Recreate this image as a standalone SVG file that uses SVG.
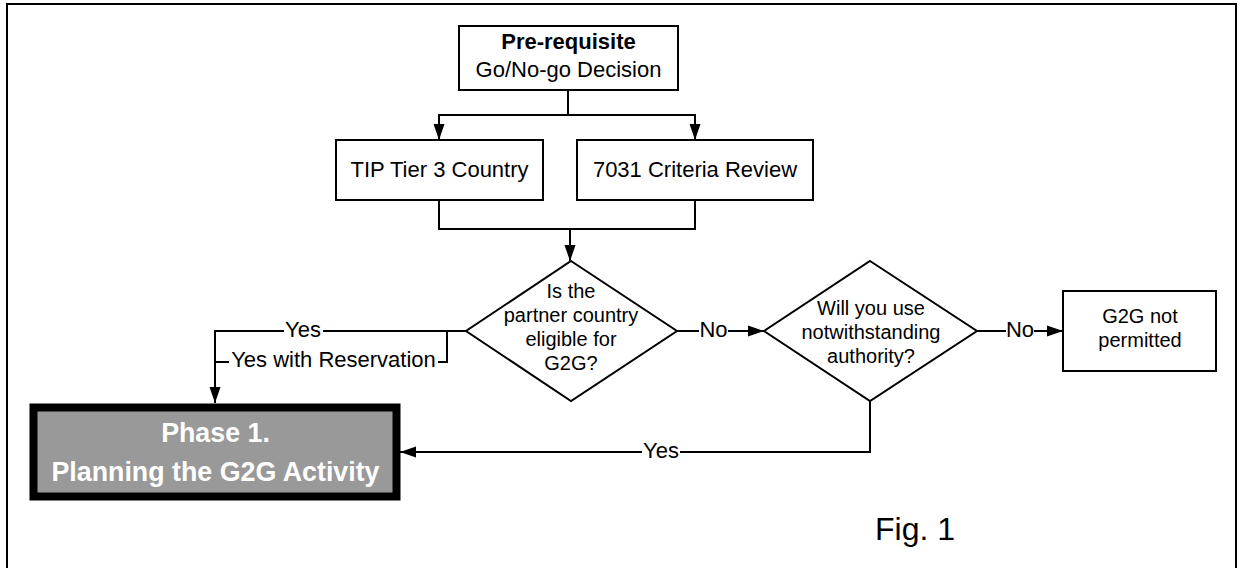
<svg xmlns="http://www.w3.org/2000/svg" width="1243" height="568" viewBox="0 0 1243 568">
<style>
  text { font-family: "Liberation Sans", Arial, sans-serif; fill: #000; }
  .t22 { font-size: 22px; text-anchor: middle; }
  .t20 { font-size: 20px; text-anchor: middle; }
  .lbl { font-size: 22px; text-anchor: middle; }
  .box { fill: #fff; stroke: #000; stroke-width: 2; }
  .con { fill: none; stroke: #000; stroke-width: 2; }
  .phase { font-size: 26.8px; font-weight: bold; fill: #fff; text-anchor: middle; }
</style>
<defs>
  <marker id="arr" markerUnits="userSpaceOnUse" markerWidth="16" markerHeight="12" refX="16" refY="6" orient="auto">
    <path d="M0,0.5 L16,6 L0,11.5 z" fill="#000"/>
  </marker>
</defs>
<rect x="0" y="0" width="1243" height="568" fill="#fff"/>
<rect id="frame" x="7" y="4" width="1229" height="570" fill="none" stroke="#000" stroke-width="2"/>

<g id="connectors">
  <path class="con" d="M568,90 V115 H439 V140" marker-end="url(#arr)"/>
  <path class="con" d="M568,115 H695 V140" marker-end="url(#arr)"/>
  <path class="con" d="M439,200 V229 H695 V200"/>
  <path class="con" d="M570,229 V261" stroke-width="3" marker-end="url(#arr)"/>
  <path class="con" d="M677,331 H699"/>
  <path class="con" d="M728,331 H764" marker-end="url(#arr)"/>
  <path class="con" d="M977,331 H1006"/>
  <path class="con" d="M1034,331 H1063" marker-end="url(#arr)"/>
  <path class="con" d="M466,331 H323"/>
  <path class="con" d="M284,331 H215 V403" marker-end="url(#arr)"/>
  <path class="con" d="M447,331 V362 H438"/>
  <path class="con" d="M229,362 H215"/>
  <path class="con" d="M870,401 V452 H680"/>
  <path class="con" d="M642,452 H400" marker-end="url(#arr)"/>
  <text class="lbl" x="303" y="337">Yes</text>
  <text class="lbl" x="333.5" y="367">Yes with Reservation</text>
  <text class="lbl" x="713.5" y="337">No</text>
  <text class="lbl" x="1020" y="337">No</text>
  <text class="lbl" x="661" y="458">Yes</text>
</g>

<g id="prereq">
  <rect class="box" x="459" y="26" width="219" height="64"/>
  <text class="t22" x="568.5" y="49" font-weight="bold">Pre-requisite</text>
  <text class="t22" x="568.5" y="77">Go/No-go Decision</text>
</g>

<g id="tip">
  <rect class="box" x="336" y="140" width="207" height="60"/>
  <text class="t22" x="439.5" y="177">TIP Tier 3 Country</text>
</g>

<g id="criteria">
  <rect class="box" x="577" y="140" width="236" height="60"/>
  <text class="t22" x="695" y="177">7031 Criteria Review</text>
</g>

<g id="eligible">
  <polygon class="box" points="571,261 677,331 571,401 466,331"/>
  <text class="t20" x="571" y="298">Is the</text>
  <text class="t20" x="571" y="322">partner country</text>
  <text class="t20" x="571" y="346">eligible for</text>
  <text class="t20" x="571" y="370">G2G?</text>
</g>

<g id="notwithstanding">
  <polygon class="box" points="870,261 977,331 870,401 764,331"/>
  <text class="t20" x="871" y="315">Will you use</text>
  <text class="t20" x="871" y="339">notwithstanding</text>
  <text class="t20" x="871" y="363">authority?</text>
</g>

<g id="notpermitted">
  <rect class="box" x="1063" y="291" width="153" height="80"/>
  <text class="t20" x="1140" y="323">G2G not</text>
  <text class="t20" x="1140" y="347">permitted</text>
</g>

<g id="phase1">
  <rect x="33.5" y="407.5" width="363" height="89" fill="#999999" stroke="#000" stroke-width="8"/>
  <text class="phase" x="215.5" y="442">Phase 1.</text>
  <text class="phase" x="215.5" y="481">Planning the G2G Activity</text>
</g>

<g id="caption">
  <text x="875" y="540" font-size="32px">Fig. 1</text>
</g>
</svg>
